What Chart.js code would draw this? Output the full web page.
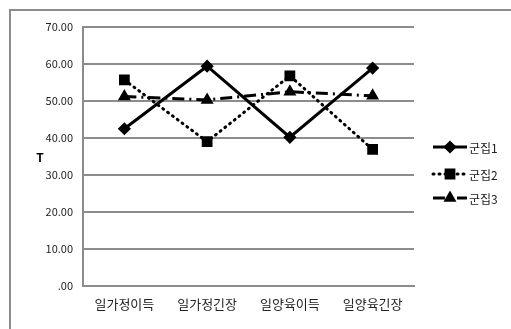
<!DOCTYPE html>
<html>
<head>
<meta charset="utf-8">
<script src="https://cdn.jsdelivr.net/npm/chart.js@4/dist/chart.umd.min.js"></script>
<style>
  body { margin: 0; background: #fff; }
  #wrap { position: relative; width: 511px; height: 329px; overflow: hidden; }
  #frame { position: absolute; left: 9px; top: 9px; width: 600px; height: 400px; border: 2px solid #8c8c8c; box-sizing: border-box; }
  #myChart { position: absolute; left: 0; top: 0; }
</style>
</head>
<body>
<div id="wrap">
  <div id="frame"></div>
  <canvas id="myChart" width="511" height="329"></canvas>
</div>
<script>
// 값은 그림에서 읽음
const categories = ['일가정이득', '일가정긴장', '일양육이득', '일양육긴장'];
const seriesNames = ['군집1', '군집2', '군집3'];
const cluster1 = [42.5, 59.4, 40.2, 58.9];
const cluster2 = [55.7, 39.0, 56.8, 36.9];
const cluster3 = [51.2, 50.3, 52.5, 51.4];
const yTicks = [0, 10, 20, 30, 40, 50, 60, 70];
const yTitle = 'T';

const FONT = '"Noto Sans CJK KR", "Noto Sans", sans-serif';

const data = {
    labels: categories,
    datasets: [{
        label: seriesNames[0],
        data: cluster1,
        borderColor: '#000',
        backgroundColor: '#000',
        borderWidth: 3,
        pointStyle: 'rectRot',
        pointRadius: 4.5,
        pointHoverRadius: 4.5
    },{
        label: seriesNames[1],
        data: cluster2,
        borderColor: '#000',
        backgroundColor: '#000',
        borderWidth: 3,
        borderDash: [1, 5],
        borderCapStyle: 'round',
        pointStyle: 'rect',
        pointRadius: 5.5,
        pointHoverRadius: 5.5
    },{
        label: seriesNames[2],
        data: cluster3,
        borderColor: '#000',
        backgroundColor: '#000',
        borderWidth: 3,
        borderDash: [12, 5, 2, 5],
        pointStyle: 'triangle',
        pointRadius: 4.5,
        pointHoverRadius: 4.5
    }]
};

// 오른쪽 범례와 T 제목 직접 그리기
const extras = {
    id: 'extras',
    afterDraw(chart) {
        const ctx = chart.ctx;
        ctx.save();
        ctx.fillStyle = '#000';
        ctx.font = 'bold 12px ' + FONT;
        ctx.textAlign = 'center';
        ctx.textBaseline = 'middle';
        ctx.fillText(yTitle, 40, 157);

        const ys = [147, 174, 198];
        chart.data.datasets.forEach((ds, i) => {
            const y = ys[i];
            ctx.strokeStyle = ds.borderColor;
            ctx.lineWidth = ds.borderWidth;
            ctx.lineCap = ds.borderCapStyle || 'butt';
            ctx.setLineDash(ds.borderDash || []);
            ctx.beginPath();
            ctx.moveTo(433, y);
            ctx.lineTo(467, y);
            ctx.stroke();
            ctx.setLineDash([]);
            Chart.helpers.drawPoint(ctx, {
                pointStyle: ds.pointStyle, radius: ds.pointRadius, borderWidth: 1
            }, 450, y);
            ctx.fillStyle = '#222';
            ctx.font = '12px ' + FONT;
            ctx.textAlign = 'left';
            ctx.fillText(ds.label, 469, y + 1);
            ctx.fillStyle = '#000';
        });
        ctx.restore();
    }
};

const config = {
    type: 'line',
    data: data,
    options: {
        responsive: false,
        animation: false,
        layout: { padding: { left: 0, right: 97, top: 27, bottom: 0 } },
        plugins: { legend: { display: false }, tooltip: { enabled: false } },
        elements: { line: { tension: 0 } },
        scales: {
            x: {
                offset: true,
                grid: { display: false, drawTicks: false },
                border: { color: '#8c8c8c', width: 2 },
                ticks: { color: '#222', font: { family: FONT, size: 13 }, padding: 10, maxRotation: 0 },
                afterFit(scale) { scale.height = 43; }
            },
            y: {
                min: 0,
                max: 70,
                afterBuildTicks(scale) { scale.ticks = yTicks.map(v => ({ value: v })); },
                grid: { color: '#8c8c8c', lineWidth: 2, drawTicks: false },
                border: { color: '#8c8c8c', width: 2 },
                ticks: {
                    color: '#222',
                    font: { family: FONT, size: 11 },
                    padding: 10,
                    callback: v => v === 0 ? '.00' : v.toFixed(2)
                },
                afterFit(scale) { scale.width = 83; }
            }
        }
    },
    plugins: [extras]
};

const myChart = new Chart(document.getElementById('myChart'), config);
</script>
</body>
</html>
